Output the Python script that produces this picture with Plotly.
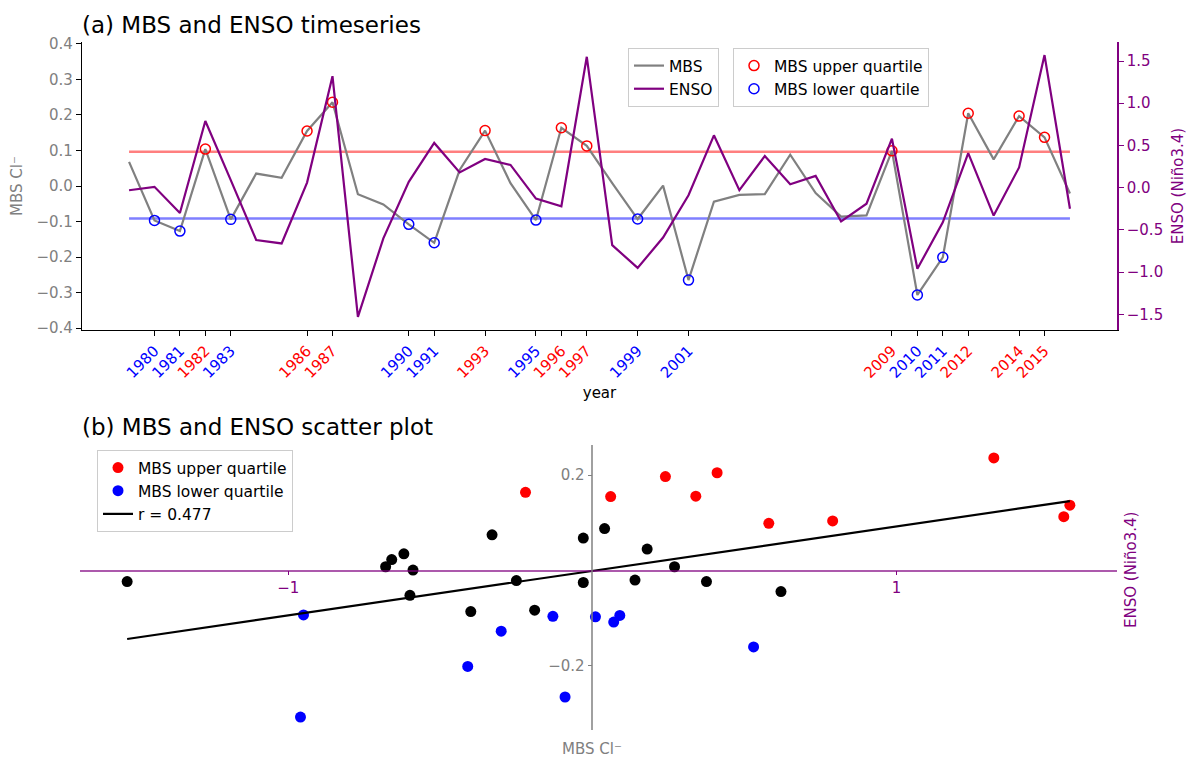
import numpy as np
import plotly.graph_objects as go

# ---------------- data ----------------
years = list(range(1979, 2017))
mbs = [0.068, -0.097, -0.127, 0.104, -0.094, 0.035, 0.023, 0.155, 0.236, -0.023,
       -0.052, -0.108, -0.160, 0.045, 0.156, 0.008, -0.096, 0.164, 0.113, 0.008,
       -0.093, 0.001, -0.265, -0.044, -0.025, -0.023, 0.088, -0.020, -0.086, -0.083,
       0.099, -0.307, -0.201, 0.205, 0.075, 0.197, 0.137, -0.021]
enso = [-0.03, 0.01, -0.30, 0.79, 0.09, -0.62, -0.66, 0.06, 1.32, -1.53,
        -0.60, 0.07, 0.53, 0.18, 0.34, 0.27, -0.13, -0.22, 1.55, -0.68,
        -0.95, -0.59, -0.09, 0.62, -0.03, 0.375, 0.04, 0.14, -0.40, -0.19,
        0.58, -0.96, -0.41, 0.41, -0.33, 0.24, 1.57, -0.25]
upper_years = [1982, 1986, 1987, 1993, 1996, 1997, 2009, 2012, 2014, 2015]
lower_years = [1980, 1981, 1983, 1990, 1991, 1995, 1999, 2001, 2010, 2011]
r_label = "r = 0.477"

FONT = "DejaVu Sans"
PURPLE = "#800080"
GREY = "#808080"

mbs_by_year = dict(zip(years, mbs))
enso_by_year = dict(zip(years, enso))
upper_thr = float(np.percentile(mbs, 75))
lower_thr = float(np.percentile(mbs, 25))
other_years = [y for y in years if y not in upper_years and y not in lower_years]

fig = go.Figure()

# ---------------- (a) timeseries ----------------
fig.add_trace(go.Scatter(x=[years[0], years[-1]], y=[upper_thr, upper_thr], mode="lines",
                         line=dict(color="rgba(255,0,0,0.5)", width=2.5), showlegend=False,
                         hoverinfo="skip", xaxis="x", yaxis="y"))
fig.add_trace(go.Scatter(x=[years[0], years[-1]], y=[lower_thr, lower_thr], mode="lines",
                         line=dict(color="rgba(0,0,255,0.5)", width=2.5), showlegend=False,
                         hoverinfo="skip", xaxis="x", yaxis="y"))
fig.add_trace(go.Scatter(x=years, y=mbs, mode="lines", name="MBS",
                         line=dict(color=GREY, width=2.2), legend="legend", xaxis="x", yaxis="y"))
fig.add_trace(go.Scatter(x=upper_years, y=[mbs_by_year[y] for y in upper_years], mode="markers",
                         name="MBS upper quartile",
                         marker=dict(symbol="circle-open", size=10, color="red", line=dict(width=1.5)),
                         legend="legend2", xaxis="x", yaxis="y"))
fig.add_trace(go.Scatter(x=lower_years, y=[mbs_by_year[y] for y in lower_years], mode="markers",
                         name="MBS lower quartile",
                         marker=dict(symbol="circle-open", size=10, color="blue", line=dict(width=1.5)),
                         legend="legend2", xaxis="x", yaxis="y"))
fig.add_trace(go.Scatter(x=years, y=enso, mode="lines", name="ENSO",
                         line=dict(color=PURPLE, width=2.2), legend="legend", xaxis="x", yaxis="y2"))

# ---------------- (b) scatter ----------------
fig.add_trace(go.Scatter(x=[enso_by_year[y] for y in other_years], y=[mbs_by_year[y] for y in other_years],
                         mode="markers", marker=dict(color="black", size=11), showlegend=False,
                         xaxis="x2", yaxis="y3"))
fig.add_trace(go.Scatter(x=[enso_by_year[y] for y in upper_years], y=[mbs_by_year[y] for y in upper_years],
                         mode="markers", marker=dict(color="red", size=11), name="MBS upper quartile",
                         legend="legend3", xaxis="x2", yaxis="y3"))
fig.add_trace(go.Scatter(x=[enso_by_year[y] for y in lower_years], y=[mbs_by_year[y] for y in lower_years],
                         mode="markers", marker=dict(color="blue", size=11), name="MBS lower quartile",
                         legend="legend3", xaxis="x2", yaxis="y3"))
slope, intercept = np.polyfit(enso, mbs, 1)
fx = [min(enso), max(enso)]
fig.add_trace(go.Scatter(x=fx, y=[slope * v + intercept for v in fx], mode="lines",
                         line=dict(color="black", width=2.2), name=r_label,
                         legend="legend3", xaxis="x2", yaxis="y3"))

# ---------------- layout ----------------
W, H = 1187, 757
def px_x(p):
    return p / W
def px_y(p):
    return 1 - p / H

quart_ticks = sorted(upper_years + lower_years)
ticktext = [f'<span style="color:{"red" if y in upper_years else "blue"}">{y}</span>' for y in quart_ticks]

# scatter axes geometry
x2_dom = [px_x(80), px_x(1117)]
y3_dom = [px_y(730), px_y(445)]
er = max(enso) - min(enso)
x2_range = [min(enso) - 0.05 * er, max(enso) + 0.05 * er]
mr = max(mbs) - min(mbs)
y3_range = [min(mbs) - 0.05 * mr, max(mbs) + 0.05 * mr]
yaxis3_pos = x2_dom[0] + (0 - x2_range[0]) / (x2_range[1] - x2_range[0]) * (x2_dom[1] - x2_dom[0])
xaxis2_pos = y3_dom[0] + (0 - y3_range[0]) / (y3_range[1] - y3_range[0]) * (y3_dom[1] - y3_dom[0])

er1 = max(enso) - min(enso)

legend_common = dict(bordercolor="#cccccc", borderwidth=1, bgcolor="rgba(255,255,255,0.8)",
                     font=dict(family=FONT, size=15.5, color="black"), xanchor="left", yanchor="top")

fig.update_layout(
    width=W, height=H,
    margin=dict(l=0, r=0, t=0, b=0, pad=0, autoexpand=False),
    paper_bgcolor="white", plot_bgcolor="white",
    font=dict(family=FONT, size=14, color="black"),
    xaxis=dict(domain=[px_x(82), px_x(1117)], range=[years[0] - 1.85, years[-1] + 1.85],
               anchor="y", tickmode="array", tickvals=quart_ticks, ticktext=ticktext,
               tickangle=-45, ticks="outside", ticklen=5, tickcolor="black", automargin=False,
               showline=True, linecolor="black", linewidth=1.2, showgrid=False, zeroline=False,
               tickfont=dict(size=15),
               title=dict(text="year", font=dict(size=15), standoff=6)),
    yaxis=dict(domain=[px_y(330), px_y(42)], range=[-0.4056, 0.4056], anchor="x", automargin=False,
               tickmode="array", tickvals=[-0.4, -0.3, -0.2, -0.1, 0.0, 0.1, 0.2, 0.3, 0.4],
               tickformat=".1f", ticks="outside", ticklen=5, tickcolor="black",
               tickfont=dict(color=GREY, size=15), showline=True, linecolor="black", linewidth=1.2,
               showgrid=False, zeroline=False,
               title=dict(text="MBS Cl⁻", font=dict(color=GREY, size=15), standoff=10)),
    yaxis2=dict(overlaying="y", side="right", anchor="x", automargin=False,
                range=[min(enso) - 0.05 * er1, max(enso) + 0.05 * er1],
                tickmode="array", tickvals=[-1.5, -1.0, -0.5, 0.0, 0.5, 1.0, 1.5], tickformat=".1f",
                ticks="outside", ticklen=5, tickcolor=PURPLE, tickfont=dict(color=PURPLE, size=15),
                showline=True, linecolor=PURPLE, linewidth=1.5, showgrid=False, zeroline=False,
                title=dict(text="ENSO (Niño3.4)", font=dict(color=PURPLE, size=15), standoff=10)),
    xaxis2=dict(domain=x2_dom, range=x2_range, anchor="free", position=xaxis2_pos, side="bottom",
                automargin=False,
                tickmode="array", tickvals=[-1, 1], ticktext=["−1", "1"], ticks="outside", ticklen=4,
                tickcolor=PURPLE, tickfont=dict(color=PURPLE, size=15),
                showline=True, linecolor="rgba(128,0,128,0.65)", linewidth=1.5,
                showgrid=False, zeroline=False),
    yaxis3=dict(domain=y3_dom, range=y3_range, anchor="free", position=yaxis3_pos, side="left",
                automargin=False,
                tickmode="array", tickvals=[-0.2, 0.2], tickformat=".1f", ticks="outside", ticklen=4,
                tickcolor=GREY, tickfont=dict(color=GREY, size=15),
                showline=True, linecolor="rgba(128,128,128,0.75)", linewidth=1.5,
                showgrid=False, zeroline=False),
    legend=dict(x=px_x(628), y=px_y(48), **legend_common),
    legend2=dict(x=px_x(733), y=px_y(48), **legend_common),
    legend3=dict(x=px_x(97), y=px_y(450), **legend_common),
    annotations=[
        dict(text="(a) MBS and ENSO timeseries", x=px_x(80), y=px_y(25), xref="paper", yref="paper",
             xanchor="left", yanchor="middle", showarrow=False, font=dict(size=23, color="black")),
        dict(text="(b) MBS and ENSO scatter plot", x=px_x(80), y=px_y(427), xref="paper", yref="paper",
             xanchor="left", yanchor="middle", showarrow=False, font=dict(size=23, color="black")),
        dict(text="MBS Cl⁻", x=yaxis3_pos, y=px_y(749), xref="paper", yref="paper",
             xanchor="center", yanchor="middle", showarrow=False, font=dict(size=15, color=GREY)),
        dict(text="ENSO (Niño3.4)", x=px_x(1131), y=px_y(570), xref="paper", yref="paper",
             xanchor="center", yanchor="middle", textangle=-90, showarrow=False,
             font=dict(size=15, color=PURPLE)),
    ],
)

fig.write_html("out.html")
